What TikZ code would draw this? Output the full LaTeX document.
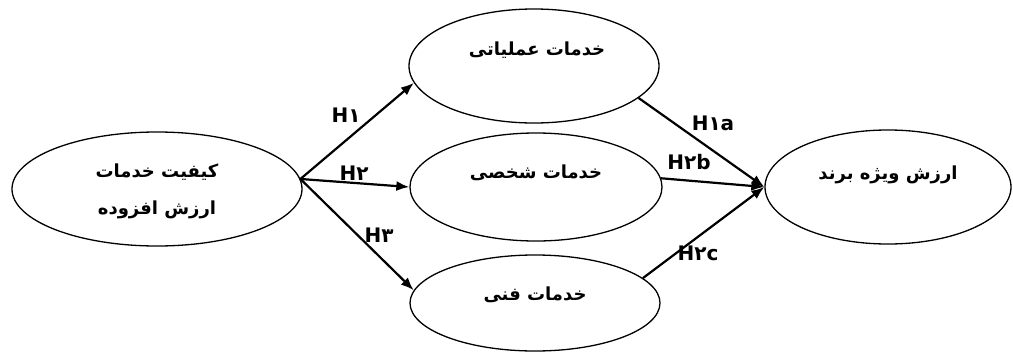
\documentclass[tikz,border=0pt]{standalone}
\usepackage{fontspec}
\usetikzlibrary{shapes.geometric,arrows.meta}
\newfontfamily\fa[Script=Arabic]{DejaVu Sans}
\newfontfamily\lab{DejaVu Sans}
\TeXXeTstate=1
\begin{document}
\begin{tikzpicture}[x=1pt,y=-1pt,
  oval/.style={draw, line width=1.3pt, ellipse, inner sep=0pt},
  txt/.style={font=\fa\bfseries\fontsize{18}{20}\selectfont, inner sep=0pt},
  hyp/.style={font=\lab\bfseries\fontsize{20}{22}\selectfont, inner sep=0pt},
  arr/.style={line width=2.2pt, -{Latex[length=13pt,width=10pt]}}]
\useasboundingbox[fill=white] (0,0) rectangle (1013,354);
% ovals
\node[oval, minimum width=290pt, minimum height=114pt] (src) at (157,189) {};
\node[oval, minimum width=250pt, minimum height=114pt] (op) at (534,66) {};
\node[oval, minimum width=252pt, minimum height=108pt] (pe) at (536,187) {};
\node[oval, minimum width=250pt, minimum height=96pt] (te) at (535,303) {};
\node[oval, minimum width=246pt, minimum height=114pt] (br) at (888,187) {};
% texts
\node[txt] (srcA) at (157,172) {\beginR کیفیت خدمات\endR};
\node[txt] (srcB) at (157,210) {\beginR ارزش افزوده\endR};
\node[txt] (opT) at (537,50) {\beginR خدمات عملیاتی\endR};
\node[txt] (peT) at (536,173) {\beginR خدمات شخصی\endR};
\node[txt] (teT) at (535,295) {\beginR خدمات فنی\endR};
\node[txt] (brT) at (888,175) {\beginR ارزش ویژه برند\endR};
% arrows
\draw[arr] (src.4) -- (op.188);
\draw[arr] (src.4) -- (pe.west);
\draw[arr] (src.4) -- (te.174);
\draw[arr] (op.-17) -- (br.west);
\draw[arr] (pe.4) -- (br.west);
\draw[arr] (te.13) -- (br.west);
% labels
\node[hyp] (h1) at (346,115) {H۱};
\node[hyp] (h2) at (354,173) {H۲};
\node[hyp] (h3) at (379,235) {H۳};
\node[hyp] (h1a) at (713,123) {H۱a};
\node[hyp] (h2b) at (689,162) {H۲b};
\node[hyp] (h2c) at (698,253) {H۲c};
\end{tikzpicture}
\end{document}
